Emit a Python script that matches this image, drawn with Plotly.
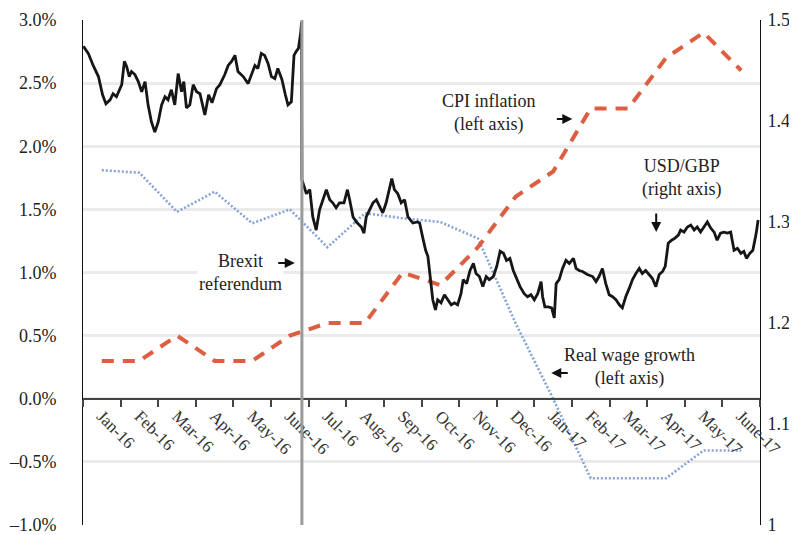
import plotly.graph_objects as go

months = ["Jan-16", "Feb-16", "Mar-16", "Apr-16", "May-16", "June-16", "Jul-16", "Aug-16",
          "Sep-16", "Oct-16", "Nov-16", "Dec-16", "Jan-17", "Feb-17", "Mar-17", "Apr-17",
          "May-17", "June-17"]

cpi_inflation = [0.3, 0.3, 0.5, 0.3, 0.3, 0.5, 0.6, 0.6, 1.0, 0.9, 1.2, 1.6, 1.8, 2.3, 2.3, 2.7, 2.9, 2.6]
real_wage_growth = [1.81, 1.79, 1.48, 1.64, 1.39, 1.50, 1.20, 1.47, 1.43, 1.40, 1.27, 0.60, 0.0,
                    -0.63, -0.63, -0.63, -0.41, -0.41]

# USD/GBP, position in months since 1 Jan 2016
gbp_month = [0.01, 0.14, 0.27, 0.41, 0.52, 0.61, 0.72, 0.80, 0.89, 0.96, 1.03, 1.10, 1.16, 1.23, 1.29,
             1.38, 1.47, 1.56, 1.65, 1.73, 1.82, 1.91, 2.00, 2.09, 2.18, 2.26, 2.35, 2.44, 2.53, 2.62,
             2.68, 2.75, 2.84, 2.93, 3.02, 3.11, 3.24, 3.34, 3.43, 3.55, 3.64, 3.77, 3.86, 3.95, 4.04,
             4.12, 4.26, 4.39, 4.48, 4.57, 4.65, 4.74, 4.83, 4.92, 5.01, 5.10, 5.18, 5.29, 5.38, 5.45,
             5.54, 5.61, 5.67, 5.73, 5.79, 5.81, 5.82, 5.85, 5.94, 6.03, 6.11, 6.20, 6.29, 6.38, 6.47,
             6.56, 6.64, 6.73, 6.82, 6.94, 7.03, 7.09, 7.18, 7.27, 7.40, 7.47, 7.53, 7.62, 7.71, 7.80,
             7.88, 7.97, 8.06, 8.15, 8.21, 8.28, 8.37, 8.46, 8.55, 8.64, 8.77, 8.89, 8.95, 9.03, 9.11,
             9.17, 9.23, 9.30, 9.37, 9.43, 9.52, 9.61, 9.70, 9.79, 9.88, 9.96, 10.05, 10.11, 10.20, 10.29,
             10.38, 10.45, 10.54, 10.63, 10.72, 10.80, 10.91, 11.00, 11.09, 11.18, 11.26, 11.35, 11.44,
             11.53, 11.62, 11.73, 11.82, 11.91, 12.00, 12.09, 12.18, 12.22, 12.28, 12.37, 12.46, 12.53,
             12.58, 12.66, 12.75, 12.84, 12.93, 13.04, 13.11, 13.19, 13.28, 13.41, 13.55, 13.64, 13.72,
             13.81, 13.90, 13.99, 14.08, 14.17, 14.26, 14.34, 14.43, 14.52, 14.61, 14.70, 14.79, 14.87,
             14.96, 15.05, 15.14, 15.23, 15.32, 15.41, 15.48, 15.56, 15.65, 15.74, 15.83, 15.89, 15.98,
             16.07, 16.16, 16.25, 16.33, 16.42, 16.51, 16.60, 16.69, 16.78, 16.86, 16.95, 17.04, 17.13,
             17.22, 17.31, 17.40, 17.49, 17.57, 17.64, 17.73, 17.81, 17.90, 17.95]
gbp_rate = [1.474, 1.467, 1.455, 1.444, 1.426, 1.417, 1.421, 1.427, 1.424, 1.431, 1.436, 1.459, 1.454,
            1.444, 1.449, 1.446, 1.439, 1.429, 1.439, 1.416, 1.399, 1.389, 1.399, 1.416, 1.424, 1.421,
            1.431, 1.416, 1.447, 1.429, 1.439, 1.413, 1.416, 1.436, 1.429, 1.427, 1.406, 1.426, 1.418,
            1.432, 1.436, 1.446, 1.455, 1.459, 1.465, 1.449, 1.444, 1.437, 1.447, 1.455, 1.452, 1.467,
            1.465, 1.457, 1.444, 1.442, 1.452, 1.441, 1.426, 1.416, 1.419, 1.465, 1.469, 1.472, 1.488,
            1.498, 1.342, 1.338, 1.328, 1.332, 1.305, 1.292, 1.312, 1.322, 1.332, 1.322, 1.319, 1.314,
            1.319, 1.319, 1.332, 1.322, 1.305, 1.300, 1.295, 1.289, 1.305, 1.312, 1.319, 1.322, 1.315,
            1.309, 1.319, 1.335, 1.343, 1.332, 1.328, 1.319, 1.322, 1.305, 1.299, 1.300, 1.299, 1.285,
            1.272, 1.266, 1.243, 1.223, 1.213, 1.223, 1.220, 1.228, 1.223, 1.218, 1.220, 1.218, 1.229,
            1.243, 1.239, 1.252, 1.259, 1.249, 1.246, 1.236, 1.246, 1.243, 1.246, 1.256, 1.271, 1.269,
            1.262, 1.264, 1.252, 1.243, 1.236, 1.229, 1.226, 1.228, 1.223, 1.229, 1.241, 1.226, 1.216,
            1.216, 1.215, 1.205, 1.239, 1.243, 1.254, 1.262, 1.259, 1.264, 1.254, 1.252, 1.251, 1.248,
            1.246, 1.241, 1.246, 1.254, 1.239, 1.228, 1.226, 1.223, 1.218, 1.215, 1.226, 1.234, 1.243,
            1.249, 1.254, 1.249, 1.252, 1.248, 1.244, 1.236, 1.248, 1.251, 1.256, 1.279, 1.282, 1.284,
            1.287, 1.292, 1.290, 1.295, 1.297, 1.292, 1.295, 1.290, 1.295, 1.300, 1.294, 1.290, 1.282,
            1.289, 1.290, 1.289, 1.290, 1.272, 1.274, 1.269, 1.271, 1.264, 1.269, 1.272, 1.289, 1.302]

brexit_month = 5.82

left_ticks = [-1.0, -0.5, 0.0, 0.5, 1.0, 1.5, 2.0, 2.5, 3.0]
left_text = [("–" if v < 0 else "") + f"{abs(v):.1f}%" for v in left_ticks]
right_ticks = [1.0, 1.1, 1.2, 1.3, 1.4, 1.5]
right_text = ["1", "1.1", "1.2", "1.3", "1.4", "1.5"]

FONT = "'Liberation Serif', 'Times New Roman', 'DejaVu Serif', serif"
mid = [i + 0.5 for i in range(len(months))]

fig = go.Figure()
fig.add_trace(go.Scatter(x=mid, y=real_wage_growth, mode="lines",
                         line=dict(color="#86a3d8", width=2.6, dash="2px,2px"),
                         name="Real wage growth"))
fig.add_trace(go.Scatter(x=mid, y=cpi_inflation, mode="lines",
                         line=dict(color="#dd5e40", width=4, dash="12px,9px"),
                         name="CPI inflation"))
fig.add_trace(go.Scatter(x=gbp_month, y=gbp_rate, mode="lines", yaxis="y2",
                         line=dict(color="#161616", width=2.8),
                         name="USD/GBP"))

fig.add_shape(type="line", xref="x", yref="paper", x0=brexit_month, x1=brexit_month, y0=0, y1=1,
              line=dict(color="#9a9a9a", width=3))

txt = dict(size=18, color="#222", family=FONT)
notes = [
    (10.80, 2.263, "CPI inflation<br>(left axis)"),
    (15.90, 1.749, "USD/GBP<br>(right axis)"),
    (4.19, 1.004, "Brexit<br>referendum"),
    (14.52, 0.251, "Real wage growth<br>(left axis)"),
]
for x, y, t in notes:
    fig.add_annotation(x=x, y=y, xref="x", yref="y", text=t, showarrow=False,
                       font=txt, align="center", bgcolor="white")
arrows = [
    (13.01, 2.216, -17, 0),
    (15.24, 1.321, 0, -20),
    (5.63, 1.075, -18, 0),
    (12.45, 0.204, 18, 0),
]
for x, y, ax, ay in arrows:
    fig.add_annotation(x=x, y=y, xref="x", yref="y", ax=ax, ay=ay, text="",
                       showarrow=True, arrowhead=2, arrowsize=1, arrowwidth=2, arrowcolor="#111")

fig.update_layout(
    width=789, height=527,
    margin=dict(l=75, r=37, t=12, b=10, autoexpand=False),
    paper_bgcolor="white", plot_bgcolor="white",
    showlegend=False,
    font=dict(family=FONT, size=18, color="#222"),
    xaxis=dict(range=[0, 18], tickmode="array", tickvals=mid, ticktext=months,
               tickangle=45, ticks="", showgrid=False, zeroline=False, automargin=False,
               anchor="free", position=0.25, showline=True, linecolor="#444", linewidth=1.5,
               tickfont=dict(family=FONT, size=17, color="#333"),
               minor=dict(tickmode="array", tickvals=list(range(19)), ticks="outside",
                          ticklen=7, tickwidth=1.5, tickcolor="#444", showgrid=False)),
    yaxis=dict(range=[-1, 3], tickmode="array", tickvals=left_ticks, ticktext=left_text,
               showgrid=True, gridcolor="#ebebeb", gridwidth=2.5, zeroline=False,
               showline=True, linecolor="#111", linewidth=1, ticks="", automargin=False,
               ticklabeloverflow="allow",
               ticklabelstandoff=22, tickfont=dict(family=FONT, size=18, color="#222")),
    yaxis2=dict(range=[1, 1.5], overlaying="y", side="right", tickmode="array",
                tickvals=right_ticks, ticktext=right_text, showgrid=False, zeroline=False,
                showline=True, linecolor="#111", linewidth=1, ticks="", automargin=False,
                ticklabeloverflow="allow",
                ticklabelstandoff=3, tickfont=dict(family=FONT, size=18, color="#222")),
)

fig.write_html("out.html")
